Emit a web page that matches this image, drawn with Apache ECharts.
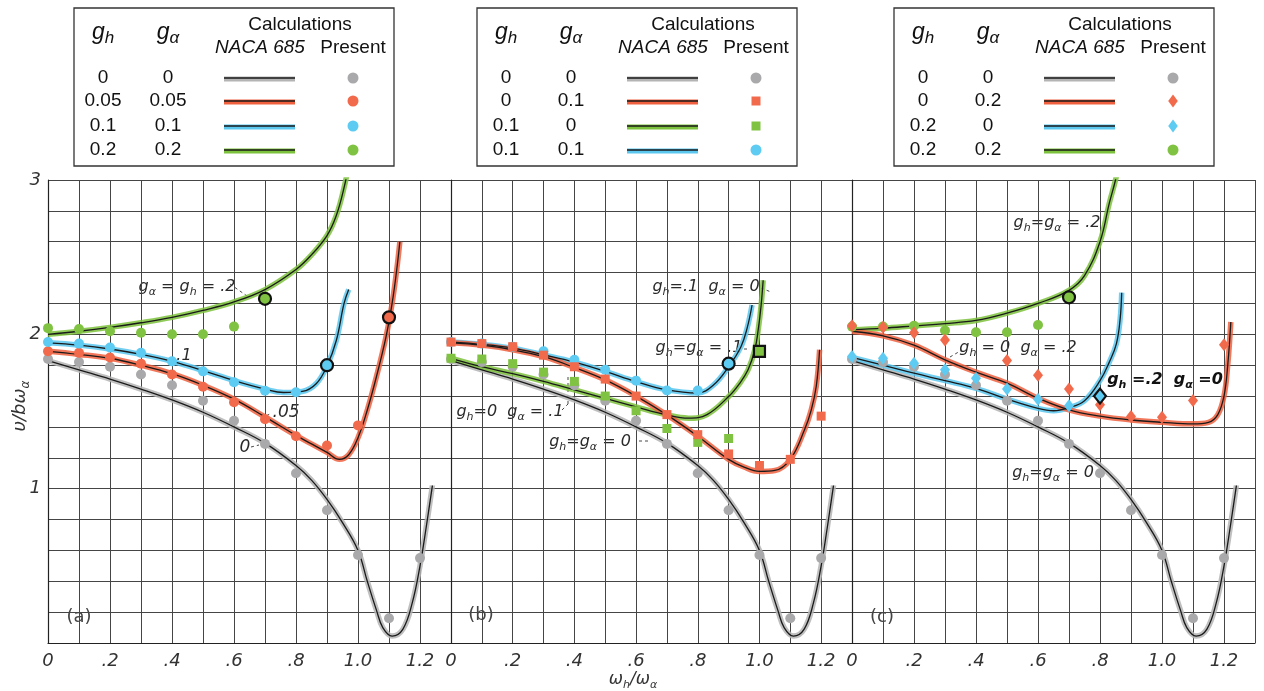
<!DOCTYPE html>
<html>
<head>
<meta charset="utf-8">
<script src="https://cdn.jsdelivr.net/npm/echarts@6/dist/echarts.min.js"></script>
<style>
  html, body { margin: 0; padding: 0; background: #fff; }
  #chart { width: 1264px; height: 691px; }
</style>
</head>
<body>
<div id="chart"></div>
<script>
// ---- Tick labels ----
const xTickLabels = ['0', '.2', '.4', '.6', '.8', '1.0', '1.2'];
const yTickLabels = ['1', '2', '3'];

// ---- Frequency ratios at which the "Present" results are given ----
const presentX = [0, 0.1, 0.2, 0.3, 0.4, 0.5, 0.6, 0.7, 0.8, 0.9, 1.0, 1.1, 1.2];

// ---- g_h = g_alpha = 0 (same case in all three panels) ----
const nacaZero = [[0,1.83],[0.1,1.77],[0.2,1.71],[0.3,1.645],[0.4,1.575],[0.5,1.495],[0.6,1.40],[0.7,1.295],[0.8,1.15],[0.85,1.055],[0.9,0.93],[0.95,0.78],[1.0,0.60],[1.03,0.40],[1.06,0.21],[1.08,0.10],[1.11,0.045],[1.145,0.09],[1.175,0.26],[1.2,0.50],[1.22,0.75],[1.24,1.02]];
const presentZero = [1.84, 1.82, 1.79, 1.74, 1.67, 1.57, 1.44, 1.29, 1.10, 0.86, 0.57, 0.16, 0.55];

// ---- Panel (a): g_h = g_alpha ----
const nacaA005 = [[0,1.89],[0.1,1.87],[0.2,1.845],[0.3,1.80],[0.4,1.745],[0.5,1.67],[0.6,1.58],[0.7,1.465],[0.8,1.345],[0.85,1.29],[0.9,1.235],[0.94,1.19],[0.97,1.22],[1.0,1.33],[1.03,1.51],[1.06,1.73],[1.09,1.98],[1.11,2.2],[1.125,2.42],[1.135,2.6]];
const presentA005 = [1.89, 1.88, 1.85, 1.81, 1.74, 1.66, 1.56, 1.45, 1.34, 1.28, 1.41];
const markedA005 = [1.1, 2.11];
const nacaA01 = [[0,1.945],[0.1,1.93],[0.2,1.905],[0.3,1.87],[0.4,1.825],[0.5,1.765],[0.6,1.70],[0.7,1.645],[0.76,1.623],[0.82,1.63],[0.865,1.68],[0.9,1.795],[0.93,1.96],[0.955,2.2],[0.97,2.29]];
const presentA01 = [1.95, 1.94, 1.915, 1.88, 1.825, 1.76, 1.69, 1.635, 1.625];
const markedA01 = [0.9, 1.80];
const nacaA02 = [[0,2.0],[0.1,2.02],[0.2,2.045],[0.3,2.075],[0.4,2.11],[0.5,2.155],[0.6,2.21],[0.7,2.29],[0.8,2.42],[0.85,2.515],[0.9,2.64],[0.93,2.77],[0.955,2.95],[0.97,3.1]];
const presentA02 = [2.04, 2.035, 2.02, 2.01, 2.0, 2.0, 2.05];
const markedA02 = [0.7, 2.23];

// ---- Panel (b) ----
const nacaB_ga01 = [[0,1.945],[0.1,1.93],[0.2,1.90],[0.3,1.855],[0.4,1.785],[0.5,1.705],[0.6,1.60],[0.7,1.478],[0.8,1.34],[0.9,1.19],[0.95,1.14],[1.0,1.112],[1.05,1.118],[1.1,1.19],[1.146,1.381],[1.168,1.511],[1.184,1.662],[1.195,1.90]];
const presentB_ga01 = [1.95, 1.94, 1.92, 1.865, 1.79, 1.71, 1.60, 1.48, 1.35, 1.225, 1.15, 1.19, 1.47];
const nacaB_gh01 = [[0,1.845],[0.1,1.79],[0.2,1.745],[0.3,1.695],[0.4,1.64],[0.5,1.585],[0.6,1.53],[0.7,1.478],[0.77,1.457],[0.83,1.48],[0.9,1.597],[0.935,1.68],[0.963,1.77],[0.985,1.9],[0.996,2.03],[1.005,2.18],[1.012,2.35]];
const presentB_gh01 = [1.845, 1.84, 1.81, 1.755, 1.695, 1.60, 1.505, 1.39, 1.30, 1.325];
const markedB_gh01 = [1.0, 1.89];
const nacaB_both01 = [[0,1.95],[0.1,1.935],[0.2,1.91],[0.3,1.867],[0.4,1.82],[0.5,1.76],[0.6,1.694],[0.7,1.64],[0.8,1.62],[0.85,1.67],[0.9,1.79],[0.94,1.92],[0.96,2.04],[0.976,2.19]];
const presentB_both01 = [1.95, 1.94, 1.92, 1.89, 1.835, 1.77, 1.70, 1.636, 1.636];
const markedB_both01 = [0.9, 1.81];

// ---- Panel (c) ----
const nacaC_ga02 = [[0,2.02],[0.1,1.99],[0.2,1.93],[0.3,1.835],[0.4,1.755],[0.5,1.684],[0.6,1.586],[0.7,1.511],[0.8,1.47],[0.9,1.445],[1.0,1.43],[1.1,1.42],[1.15,1.43],[1.18,1.48],[1.2,1.6],[1.212,1.8],[1.222,2.08]];
const presentC_ga02 = [2.055, 2.046, 2.01, 1.964, null, 1.83, 1.735, 1.645, 1.543, 1.468, 1.463, 1.571, 1.932];
const nacaC_gh02 = [[0,1.85],[0.1,1.80],[0.2,1.748],[0.3,1.70],[0.4,1.65],[0.5,1.58],[0.6,1.52],[0.65,1.505],[0.7,1.525],[0.75,1.57],[0.8,1.70],[0.83,1.82],[0.853,1.94],[0.865,2.1],[0.87,2.27]];
const presentC_gh02 = [1.856, 1.845, 1.813, 1.77, 1.716, 1.645, 1.58, 1.537];
const markedC_gh02 = [0.8, 1.60];
const nacaC_both02 = [[0,2.03],[0.1,2.04],[0.2,2.055],[0.3,2.07],[0.4,2.09],[0.5,2.137],[0.6,2.20],[0.7,2.285],[0.75,2.38],[0.8,2.60],[0.83,2.85],[0.85,3.0],[0.86,3.1]];
const presentC_both02 = [2.05, 2.05, 2.055, 2.025, 2.014, 2.014, 2.06];
const markedC_both02 = [0.7, 2.24];

// ---- Legend tables ----
const legendGhA = ['0', '0.05', '0.1', '0.2'];
const legendGaA = ['0', '0.05', '0.1', '0.2'];
const legendGhB = ['0', '0', '0.1', '0.1'];
const legendGaB = ['0', '0.1', '0', '0.1'];
const legendGhC = ['0', '0', '0.2', '0.2'];
const legendGaC = ['0', '0.2', '0', '0.2'];

// ---- Styling ----
const COL = { gray: '#a9a9ab', red: '#f26a4c', blue: '#5ecbf2', green: '#80c242' };
const BAND = { gray: '#b4b4b4', red: '#f0603f', blue: '#5bc7ee', green: '#7cc23c' };
const INK = '#1a1a1a';
const HAND = '"DejaVu Sans"';
const SANS = '"Liberation Sans"';
const SMOOTH = 0.4;

const grids = [
  { left: 48, top: 180, width: 403, height: 463 },
  { left: 451, top: 180, width: 401, height: 463 },
  { left: 852, top: 180, width: 403, height: 463 }
];

function fmtX(v) {
  const k = Math.round(v * 10);
  if (k % 2) return '';
  return xTickLabels[k / 2] || '';
}
function fmtY(v) {
  const k = Math.round(v * 10);
  if (k % 10 || k === 0) return '';
  return yTickLabels[k / 10 - 1] || '';
}

const xAxis = grids.map((g, i) => ({
  type: 'value', gridIndex: i, min: 0, max: 1.3, interval: 0.1,
  axisLine: { show: true, onZero: false, lineStyle: { color: '#222', width: 1.2 } },
  axisTick: { show: false },
  splitLine: { show: true, lineStyle: { color: '#454545', width: 1 } },
  axisLabel: { formatter: fmtX, fontSize: 18, fontStyle: 'italic', fontFamily: HAND, color: '#333', margin: 9 }
}));
const yAxis = grids.map((g, i) => ({
  type: 'value', gridIndex: i, min: 0, max: 3, interval: 0.2,
  axisLine: { show: true, onZero: false, lineStyle: { color: '#222', width: 1.2 } },
  axisTick: { show: false },
  splitLine: { show: true, lineStyle: { color: '#454545', width: 1 } },
  axisLabel: { show: i === 0, formatter: fmtY, fontSize: 18, fontStyle: 'italic', fontFamily: HAND, color: '#333', margin: 7 }
}));

const series = [];
function curve(g, pts, key) {
  series.push({
    type: 'line', xAxisIndex: g, yAxisIndex: g, data: pts, smooth: SMOOTH, symbol: 'none', silent: true, z: 2,
    lineStyle: { color: BAND[key], width: 5.5, opacity: 0.85 }
  });
  series.push({
    type: 'line', xAxisIndex: g, yAxisIndex: g, data: pts, smooth: SMOOTH, symbol: 'none', silent: true, z: 3,
    lineStyle: { color: INK, width: 1.3 }
  });
}
function present(g, ys, key, symbol, size) {
  const data = [];
  ys.forEach((y, i) => { if (y != null) data.push([presentX[i], y]); });
  series.push({
    type: 'scatter', xAxisIndex: g, yAxisIndex: g, data, symbol, symbolSize: size, silent: true, z: 4,
    itemStyle: { color: COL[key], opacity: 1 }
  });
}
function marked(g, pt, key, symbol, size) {
  series.push({
    type: 'scatter', xAxisIndex: g, yAxisIndex: g, data: [pt], symbol, symbolSize: size, silent: true, z: 5,
    itemStyle: { color: COL[key], borderColor: '#111', borderWidth: 2.2, opacity: 1 }
  });
}

// Panel (a)
curve(0, nacaZero, 'gray');
curve(0, nacaA005, 'red');
curve(0, nacaA01, 'blue');
curve(0, nacaA02, 'green');
present(0, presentZero, 'gray', 'circle', 10);
present(0, presentA02, 'green', 'circle', 10);
present(0, presentA005, 'red', 'circle', 10);
present(0, presentA01, 'blue', 'circle', 10);
marked(0, markedA005, 'red', 'circle', 12);
marked(0, markedA01, 'blue', 'circle', 12);
marked(0, markedA02, 'green', 'circle', 12);

// Panel (b)
curve(1, nacaZero, 'gray');
curve(1, nacaB_gh01, 'green');
curve(1, nacaB_both01, 'blue');
curve(1, nacaB_ga01, 'red');
present(1, presentZero, 'gray', 'circle', 10);
present(1, presentB_both01, 'blue', 'circle', 10);
present(1, presentB_gh01, 'green', 'rect', 9);
present(1, presentB_ga01, 'red', 'rect', 9);
marked(1, markedB_both01, 'blue', 'circle', 12);
marked(1, markedB_gh01, 'green', 'rect', 11);

// Panel (c)
curve(2, nacaZero, 'gray');
curve(2, nacaC_both02, 'green');
curve(2, nacaC_gh02, 'blue');
curve(2, nacaC_ga02, 'red');
present(2, presentZero, 'gray', 'circle', 10);
present(2, presentC_both02, 'green', 'circle', 10);
present(2, presentC_gh02, 'blue', 'diamond', [10, 13]);
present(2, presentC_ga02, 'red', 'diamond', [10, 13]);
marked(2, markedC_gh02, 'blue', 'diamond', [12, 15]);
marked(2, markedC_both02, 'green', 'circle', 12);

// ---- Text helpers (subscripts are tokens starting with "_") ----
const mctx = document.createElement('canvas').getContext('2d');
function measure(str, fs, family, style, weight) {
  mctx.font = `${style} ${weight} ${fs}px ${family}`;
  return mctx.measureText(str).width;
}
function run(x, y, tokens, o) {
  const fs = o.fs || 16, family = o.family || HAND, style = o.style || 'italic', weight = o.weight || 'normal';
  const color = o.color || '#2a2a2a';
  const subFs = Math.round(fs * (o.subScale || 0.66));
  const parts = tokens.map(t => {
    const sub = t.charAt(0) === '_';
    const txt = sub ? t.slice(1) : t;
    const size = sub ? subFs : fs;
    return { txt, sub, size, w: measure(txt, size, family, style, weight) };
  });
  const total = parts.reduce((s, p) => s + p.w, 0);
  let cx = o.align === 'left' ? x : x - total / 2;
  const els = [];
  if (o.bg) {
    els.push({ type: 'rect', shape: { x: cx - 3, y: y - fs * 0.62, width: total + 6, height: fs * 1.3 },
      style: { fill: '#fff' }, silent: true });
  }
  parts.forEach(p => {
    els.push({ type: 'text', silent: true, style: {
      text: p.txt, x: cx, y: y + (p.sub ? fs * (o.subDrop || 0.32) : 0),
      fill: color, align: 'left', verticalAlign: 'middle',
      font: `${style} ${weight} ${p.size}px ${family}`
    } });
    cx += p.w;
  });
  return els;
}
function dash(x1, y1, x2, y2) {
  return { type: 'line', silent: true, shape: { x1, y1, x2, y2 },
    style: { stroke: '#333', lineWidth: 0.9, lineDash: [3, 3] } };
}

const graphic = [];
function add(arr) { arr.forEach(e => graphic.push(e)); }

// Panel annotations
add(run(187, 287, ['g', '_α', ' = ', 'g', '_h', ' = .2'], { bg: true }));
graphic.push(dash(230, 284, 247, 296));
add(run(184, 356, ['.1'], {}));
add(run(286, 413, ['.05'], { fs: 17, bg: true }));
graphic.push(dash(261, 418, 270, 414));
add(run(245, 448, ['0'], { fs: 17, bg: true }));
graphic.push(dash(251, 447, 259, 445));

add(run(706, 287, ['g', '_h', '=.1  ', 'g', '_α', ' = 0'], { bg: true }));
graphic.push(dash(761, 288, 771, 292));
add(run(699, 348, ['g', '_h', '=', 'g', '_α', ' = .1'], { bg: true }));
graphic.push(dash(744, 349, 750, 349));
add(run(510, 412, ['g', '_h', '=0  ', 'g', '_α', ' = .1'], { bg: true }));
graphic.push(dash(562, 410, 568, 404));
graphic.push(dash(568, 404, 568, 376));
add(run(590, 442, ['g', '_h', '=', 'g', '_α', ' = 0'], { bg: true }));
graphic.push(dash(639, 441, 651, 441));

add(run(1057, 223, ['g', '_h', '=', 'g', '_α', ' = .2'], { bg: true }));
add(run(1018, 348, ['g', '_h', ' = 0  ', 'g', '_α', ' = .2'], { bg: true }));
graphic.push(dash(950, 357, 962, 350));
add(run(1165, 380, ['g', '_h', ' =.2  ', 'g', '_α', ' =0'], { bg: true, color: '#111', weight: 'bold' }));
add(run(1053, 473, ['g', '_h', '=', 'g', '_α', ' = 0'], { bg: true }));

add(run(79, 617, ['(a)'], { fs: 18, style: 'normal', bg: true, color: '#444' }));
add(run(481, 615, ['(b)'], { fs: 18, style: 'normal', bg: true, color: '#444' }));
add(run(882, 617, ['(c)'], { fs: 18, style: 'normal', bg: true, color: '#444' }));

// Axis titles
add(run(633, 680, ['ω', '_h', '/ω', '_α'], { fs: 17, color: '#333' }));
graphic.push({
  type: 'group', x: 20, y: 406, rotation: Math.PI / 2, silent: true,
  children: run(0, 0, ['υ/bω', '_α'], { fs: 18, color: '#333' })
});

// ---- Legend tables ----
function legend(left, ghs, gas, lineKeys, markKeys, shapes) {
  const top = 8, w = 320, h = 158;
  graphic.push({ type: 'rect', silent: true, shape: { x: left, y: top, width: w, height: h },
    style: { fill: '#fff', stroke: '#333', lineWidth: 1.3 } });
  add(run(left + 29, 33, ['g', '_h'], { fs: 23, family: SANS, color: '#111', subScale: 0.75, subDrop: 0.22 }));
  add(run(left + 94, 33, ['g', '_α'], { fs: 23, family: SANS, color: '#111', subScale: 0.75, subDrop: 0.22 }));
  add(run(left + 226, 25, ['Calculations'], { fs: 19, family: SANS, style: 'normal', color: '#111' }));
  add(run(left + 186, 48, ['NACA 685'], { fs: 19, family: SANS, color: '#111' }));
  add(run(left + 279, 48, ['Present'], { fs: 19, family: SANS, style: 'normal', color: '#111' }));
  const rowsY = [78, 101, 126, 150];
  rowsY.forEach((ry, i) => {
    add(run(left + 29, ry, [ghs[i]], { fs: 19, family: SANS, style: 'normal', color: '#111' }));
    add(run(left + 94, ry, [gas[i]], { fs: 19, family: SANS, style: 'normal', color: '#111' }));
    graphic.push({ type: 'line', silent: true, shape: { x1: left + 150, y1: ry + 1, x2: left + 221, y2: ry + 1 },
      style: { stroke: BAND[lineKeys[i]], lineWidth: 5 } });
    graphic.push({ type: 'line', silent: true, shape: { x1: left + 150, y1: ry, x2: left + 221, y2: ry },
      style: { stroke: INK, lineWidth: 1.5 } });
    const mx = left + 279, fill = COL[markKeys[i]];
    if (shapes[i] === 'circle') {
      graphic.push({ type: 'circle', silent: true, shape: { cx: mx, cy: ry, r: 5.5 }, style: { fill } });
    } else if (shapes[i] === 'rect') {
      graphic.push({ type: 'rect', silent: true, shape: { x: mx - 4.5, y: ry - 4.5, width: 9, height: 9 }, style: { fill } });
    } else {
      graphic.push({ type: 'polygon', silent: true, shape: { points: [[mx, ry - 6.5], [mx + 4.8, ry], [mx, ry + 6.5], [mx - 4.8, ry]] }, style: { fill } });
    }
  });
}
legend(74, legendGhA, legendGaA, ['gray', 'red', 'blue', 'green'], ['gray', 'red', 'blue', 'green'], ['circle', 'circle', 'circle', 'circle']);
legend(477, legendGhB, legendGaB, ['gray', 'red', 'green', 'blue'], ['gray', 'red', 'green', 'blue'], ['circle', 'rect', 'rect', 'circle']);
legend(894, legendGhC, legendGaC, ['gray', 'red', 'blue', 'green'], ['gray', 'red', 'blue', 'green'], ['circle', 'diamond', 'diamond', 'circle']);

const chart = echarts.init(document.getElementById('chart'), null, { renderer: 'canvas' });
chart.setOption({
  animation: false,
  backgroundColor: '#fff',
  grid: grids,
  xAxis,
  yAxis,
  series,
  graphic: { elements: graphic }
});
</script>
</body>
</html>
